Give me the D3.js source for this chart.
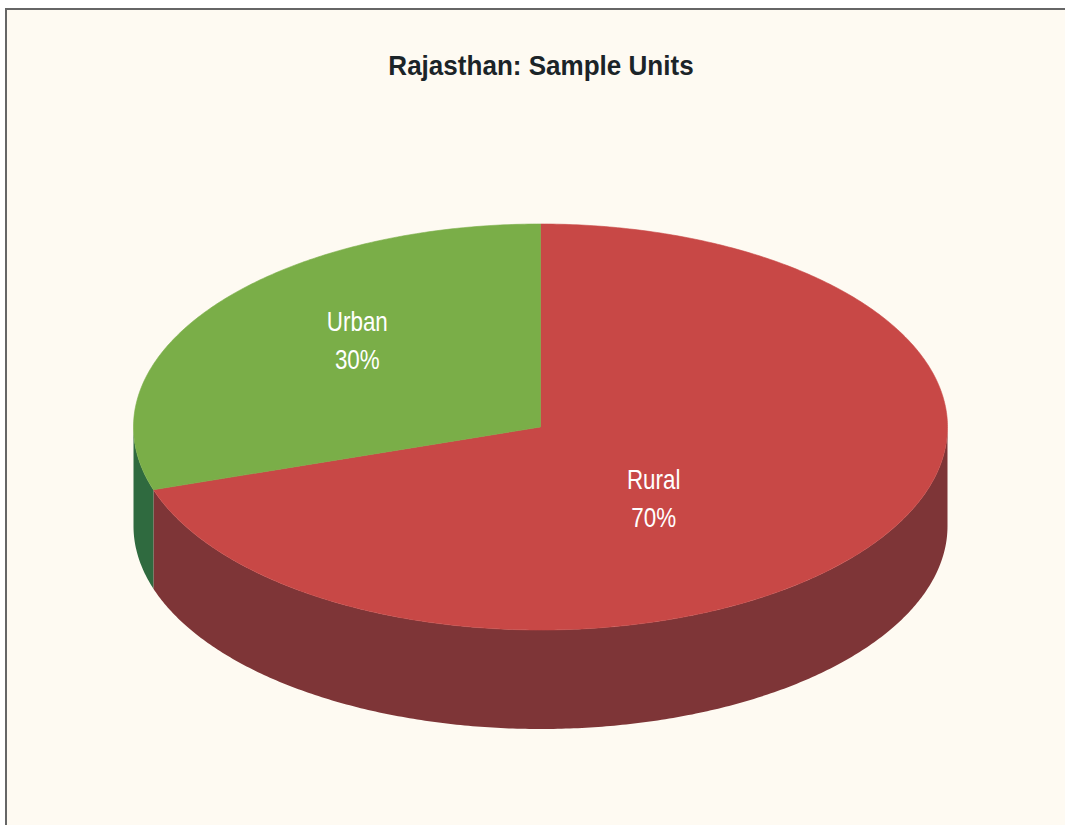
<!DOCTYPE html>
<html>
<head>
<meta charset="utf-8">
<script src="https://cdn.jsdelivr.net/npm/d3@7"></script>
<style>
  html, body { margin: 0; padding: 0; background: #ffffff; }
  svg { display: block; }
</style>
</head>
<body>
<div id="chart"></div>
<script>
// chart data
const title = 'Rajasthan: Sample Units';
const categories = ['Rural', 'Urban'];
const shares = [70, 30];
const topColors = ['#c84846', '#7aae48'];
const sideColors = ['#7e3537', '#2f6a3f'];

const width = 1065;
const height = 825;
const svg = d3.select('#chart').append('svg').attr('width', width).attr('height', height);

// squeeze a text element horizontally (narrow face look)
const squeeze = (sel, k) => {
  const w = sel.node().getComputedTextLength();
  sel.attr('textLength', w * k).attr('lengthAdjust', 'spacingAndGlyphs');
};

// frame
svg.append('rect')
  .attr('x', 6).attr('y', 9)
  .attr('width', width + 10).attr('height', height + 10)
  .attr('fill', '#fefaf2').attr('stroke', '#666666').attr('stroke-width', 2);

const titleText = svg.append('text')
  .attr('x', 541).attr('y', 75)
  .attr('text-anchor', 'middle')
  .attr('font-family', '"Liberation Sans", Arial, sans-serif')
  .attr('font-weight', 700).attr('font-size', 28)
  .attr('fill', '#1b2428')
  .text(title);
squeeze(titleText, 0.93);

// ellipse geometry of the tilted pie
const cx = 540.5, cy = 427, rx = 407, ry = 203, depth = 99;
const pt = (a, dy = 0) => [cx + rx * Math.sin(a), cy - ry * Math.cos(a) + dy];
const steps = (a0, a1) => {
  const n = Math.max(2, Math.ceil(Math.abs(a1 - a0) / 0.01));
  return d3.range(n + 1).map((i) => a0 + (a1 - a0) * i / n);
};

const pie = d3.pie().sort(null).startAngle(0).endAngle(2 * Math.PI);
const arcs = pie(shares).map((d, i) => ({ ...d, name: categories[i], i }));
const line = d3.line();

// side walls (only front half, pi/2 .. 3pi/2, is visible)
const walls = svg.append('g');
arcs.forEach((d) => {
  const a0 = Math.max(d.startAngle, Math.PI / 2);
  const a1 = Math.min(d.endAngle, 3 * Math.PI / 2);
  if (a1 <= a0) return;
  const top = steps(a0, a1).map((a) => pt(a));
  const bottom = steps(a1, a0).map((a) => pt(a, depth));
  walls.append('path')
    .attr('d', line(top.concat(bottom)) + 'Z')
    .attr('fill', sideColors[d.i]);
});

// top faces
const tops = svg.append('g');
arcs.forEach((d) => {
  const ring = steps(d.startAngle, d.endAngle).map((a) => pt(a));
  tops.append('path')
    .attr('d', line([[cx, cy]].concat(ring)) + 'Z')
    .attr('fill', topColors[d.i])
    .attr('stroke', topColors[d.i]).attr('stroke-width', 0.6);
});

// labels
const labels = svg.append('g')
  .attr('font-family', '"Liberation Sans", Arial, sans-serif')
  .attr('font-size', 28).attr('fill', '#ffffff').attr('text-anchor', 'middle');
const fmt = d3.format('.0%');
const total = d3.sum(shares);
arcs.forEach((d) => {
  const mid = (d.startAngle + d.endAngle) / 2;
  const lx = cx - 35 + rx * 0.45 * Math.sin(mid);
  const ly = cy - 14 - ry * 0.66 * Math.cos(mid);
  const l1 = labels.append('text').attr('x', lx).attr('y', ly - 3).text(d.name);
  const l2 = labels.append('text').attr('x', lx).attr('y', ly + 35).text(fmt(d.value / total));
  squeeze(l1, 0.8);
  squeeze(l2, 0.8);
});
</script>
</body>
</html>
